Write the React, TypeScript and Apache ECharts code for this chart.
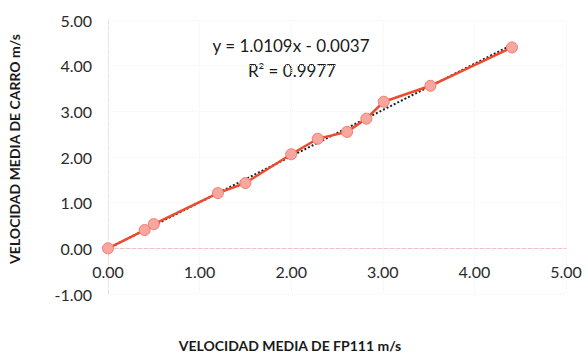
import React, { useEffect, useRef } from "react";
import * as echarts from "echarts";

const fp111Speed = [0.0, 0.4, 0.5, 1.2, 1.5, 2.0, 2.29, 2.61, 2.82, 3.01, 3.52, 4.41];
const carroSpeed = [0.0, 0.4, 0.53, 1.21, 1.43, 2.06, 2.4, 2.55, 2.84, 3.21, 3.56, 4.4];
const trendSlope = 1.0109;
const trendIntercept = -0.0037;
const equationText = "y = 1.0109x - 0.0037";
const r2Text = "R² = 0.9977";
const xTitle = "VELOCIDAD MEDIA DE FP111 m/s";
const yTitle = "VELOCIDAD MEDIA DE CARRO m/s";

export default function App() {
  const ref = useRef<HTMLDivElement>(null);
  useEffect(() => {
    if (!ref.current) return;
    const chart = echarts.init(ref.current, null, { renderer: "svg" });
    const pts = fp111Speed.map((x, i) => [x, carroSpeed[i]]);
    const xmin = Math.min(...fp111Speed);
    const xmax = Math.max(...fp111Speed);
    const trend = [xmin, xmax].map((x) => [x, trendSlope * x + trendIntercept]);
    const font = "Lato, 'Open Sans', sans-serif";
    chart.setOption({
      animation: false,
      grid: { left: 108, right: 21, top: 20, bottom: 61 },
      xAxis: {
        type: "value",
        min: 0,
        max: 5,
        interval: 1,
        axisLine: { onZero: true, lineStyle: { color: "#eec0c8", type: "dashed", width: 1 } },
        axisTick: { show: false },
        axisLabel: {
          formatter: (v: number) => v.toFixed(2),
          color: "#2a2a2a",
          fontSize: 16,
          fontFamily: font,
          margin: -31,
        },
        splitLine: { show: true, lineStyle: { color: "#f3f3f3", type: "dotted" } },
      },
      yAxis: {
        type: "value",
        min: -1,
        max: 5,
        interval: 1,
        axisLine: { show: true, onZero: true, lineStyle: { color: "#eedde0", type: "dashed", width: 1 } },
        axisTick: { show: false },
        axisLabel: {
          formatter: (v: number) => v.toFixed(2),
          color: "#2a2a2a",
          fontSize: 16,
          fontFamily: font,
          margin: 16,
        },
        splitLine: { show: true, lineStyle: { color: "#f3f3f3", type: "dotted" } },
      },
      graphic: [
        {
          type: "text",
          x: 291,
          y: 45,
          style: {
            text: equationText,
            font: `17px ${font}`,
            fill: "#1a1a1a",
            align: "center",
            verticalAlign: "middle",
          },
        },
        {
          type: "text",
          x: 292,
          y: 70,
          style: {
            text: r2Text,
            font: `17px ${font}`,
            fill: "#1a1a1a",
            align: "center",
            verticalAlign: "middle",
          },
        },
        {
          type: "text",
          x: 290,
          y: 345,
          style: {
            text: xTitle,
            font: `bold 14px ${font}`,
            fill: "#1a1a1a",
            align: "center",
            verticalAlign: "middle",
          },
        },
        {
          type: "text",
          x: 14,
          y: 149,
          rotation: Math.PI / 2,
          style: {
            text: yTitle,
            font: `bold 14px ${font}`,
            fill: "#1a1a1a",
            align: "center",
            verticalAlign: "middle",
          },
        },
      ],
      series: [
        {
          type: "line",
          data: trend,
          symbol: "none",
          lineStyle: { color: "#222", type: "dotted", width: 2 },
          z: 1,
        },
        {
          type: "line",
          data: pts,
          symbol: "circle",
          symbolSize: 11,
          lineStyle: { color: "#ee4a2c", width: 2.5 },
          itemStyle: { color: "#f7a6a0", borderColor: "#ef7d6c", borderWidth: 1 },
          z: 2,
        },
      ],
    });
    return () => chart.dispose();
  }, []);
  return <div ref={ref} style={{ width: 587, height: 355, position: "absolute", left: 0, top: 0 }} />;
}
